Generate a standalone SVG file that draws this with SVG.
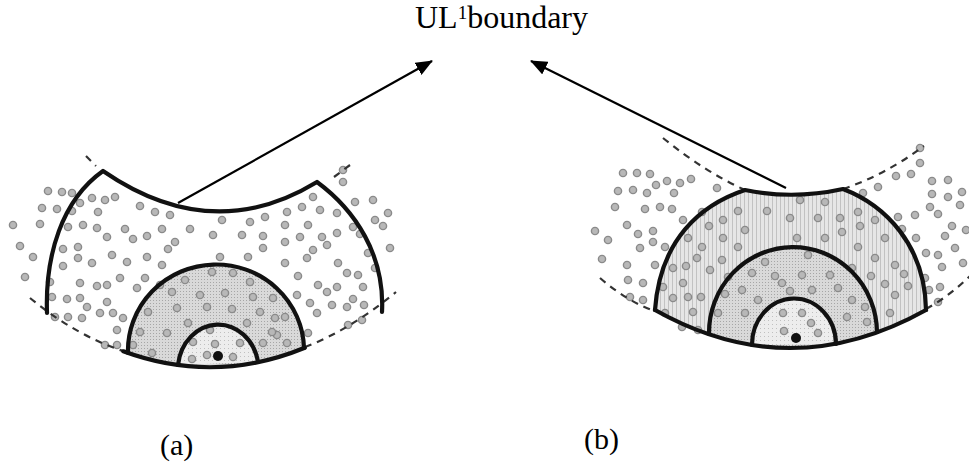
<svg xmlns="http://www.w3.org/2000/svg" width="969" height="469" viewBox="0 0 969 469">
<style>
.thick{fill:none;stroke:#111;stroke-width:4.2;stroke-linecap:round;stroke-linejoin:round}
.dash{fill:none;stroke:#333;stroke-width:2.2;stroke-dasharray:7 6}
.arrow{fill:none;stroke:#000;stroke-width:2.2}
.d{fill:#b8b8b8;stroke:#8a8a8a;stroke-width:1.4}
.lbl{font-family:"Liberation Serif","Times New Roman",serif;fill:#000}
</style>
<defs>
<pattern id="stip" width="3" height="3" patternUnits="userSpaceOnUse">
<rect width="3" height="3" fill="#d9d9d9"/><rect width="1" height="1" fill="#a6a6a6"/>
</pattern>
<pattern id="stripe" width="4" height="4" patternUnits="userSpaceOnUse">
<rect width="4" height="4" fill="#e6e6e6"/><rect width="1" height="4" fill="#c2c2c2"/>
</pattern>
<pattern id="light" width="4" height="4" patternUnits="userSpaceOnUse">
<rect width="4" height="4" fill="#ededed"/><rect width="1" height="1" fill="#c0c0c0"/>
</pattern>
<marker id="ah" markerWidth="18" markerHeight="14" refX="16" refY="7" orient="auto" markerUnits="userSpaceOnUse">
<path d="M0,0 L17,7 L0,14 Z" fill="#000"/>
</marker>
</defs>

<text class="lbl" x="415" y="28" font-size="32">UL<tspan font-size="19" dy="-9">1</tspan><tspan dy="9">boundary</tspan></text>

<g id="fig-a">
<path d="M128,353 A88,86 0 0 1 304,348 Q214.5,384.9 123.3,351.3 Z" fill="url(#stip)"/>
<path d="M178,365 A40.5,46 0 0 1 258,362 Z" fill="url(#light)"/>
<g id="dots-a">
<circle class="d" cx="48" cy="191" r="3.6"/><circle class="d" cx="62" cy="192" r="3.6"/><circle class="d" cx="72" cy="193" r="3.6"/><circle class="d" cx="42" cy="208" r="3.6"/><circle class="d" cx="57" cy="209" r="3.6"/><circle class="d" cx="72" cy="211" r="3.6"/><circle class="d" cx="80" cy="203" r="3.6"/><circle class="d" cx="92" cy="198" r="3.6"/><circle class="d" cx="105" cy="200" r="3.6"/><circle class="d" cx="115" cy="197" r="3.6"/><circle class="d" cx="98" cy="212" r="3.6"/><circle class="d" cx="140" cy="206" r="3.6"/><circle class="d" cx="155" cy="212" r="3.6"/><circle class="d" cx="170" cy="215" r="3.6"/><circle class="d" cx="13" cy="225" r="3.6"/><circle class="d" cx="40" cy="224" r="3.6"/><circle class="d" cx="68" cy="227" r="3.6"/><circle class="d" cx="83" cy="225" r="3.6"/><circle class="d" cx="97" cy="228" r="3.6"/><circle class="d" cx="107" cy="237" r="3.6"/><circle class="d" cx="125" cy="229" r="3.6"/><circle class="d" cx="133" cy="239" r="3.6"/><circle class="d" cx="147" cy="236" r="3.6"/><circle class="d" cx="162" cy="229" r="3.6"/><circle class="d" cx="175" cy="242" r="3.6"/><circle class="d" cx="168" cy="249" r="3.6"/><circle class="d" cx="190" cy="229" r="3.6"/><circle class="d" cx="20" cy="246" r="3.6"/><circle class="d" cx="33" cy="257" r="3.6"/><circle class="d" cx="63" cy="249" r="3.6"/><circle class="d" cx="78" cy="247" r="3.6"/><circle class="d" cx="78" cy="258" r="3.6"/><circle class="d" cx="63" cy="266" r="3.6"/><circle class="d" cx="92" cy="263" r="3.6"/><circle class="d" cx="112" cy="255" r="3.6"/><circle class="d" cx="127" cy="262" r="3.6"/><circle class="d" cx="147" cy="257" r="3.6"/><circle class="d" cx="162" cy="265" r="3.6"/><circle class="d" cx="25" cy="277" r="3.6"/><circle class="d" cx="50" cy="282" r="3.6"/><circle class="d" cx="80" cy="283" r="3.6"/><circle class="d" cx="97" cy="286" r="3.6"/><circle class="d" cx="107" cy="285" r="3.6"/><circle class="d" cx="120" cy="278" r="3.6"/><circle class="d" cx="137" cy="288" r="3.6"/><circle class="d" cx="145" cy="278" r="3.6"/><circle class="d" cx="52" cy="297" r="3.6"/><circle class="d" cx="67" cy="299" r="3.6"/><circle class="d" cx="80" cy="298" r="3.6"/><circle class="d" cx="87" cy="307" r="3.6"/><circle class="d" cx="107" cy="302" r="3.6"/><circle class="d" cx="100" cy="313" r="3.6"/><circle class="d" cx="113" cy="313" r="3.6"/><circle class="d" cx="123" cy="318" r="3.6"/><circle class="d" cx="55" cy="317" r="3.6"/><circle class="d" cx="68" cy="317" r="3.6"/><circle class="d" cx="82" cy="318" r="3.6"/><circle class="d" cx="117" cy="330" r="3.6"/><circle class="d" cx="105" cy="345" r="3.6"/><circle class="d" cx="117" cy="345" r="3.6"/>
<circle class="d" cx="343" cy="170" r="3.6"/><circle class="d" cx="343" cy="182" r="3.6"/><circle class="d" cx="355" cy="202" r="3.6"/><circle class="d" cx="373" cy="200" r="3.6"/><circle class="d" cx="388" cy="213" r="3.6"/><circle class="d" cx="375" cy="220" r="3.6"/><circle class="d" cx="383" cy="226" r="3.6"/><circle class="d" cx="353" cy="227" r="3.6"/><circle class="d" cx="360" cy="234" r="3.6"/><circle class="d" cx="313" cy="197" r="3.6"/><circle class="d" cx="302" cy="207" r="3.6"/><circle class="d" cx="287" cy="212" r="3.6"/><circle class="d" cx="265" cy="217" r="3.6"/><circle class="d" cx="250" cy="222" r="3.6"/><circle class="d" cx="222" cy="220" r="3.6"/><circle class="d" cx="213" cy="235" r="3.6"/><circle class="d" cx="242" cy="235" r="3.6"/><circle class="d" cx="263" cy="236" r="3.6"/><circle class="d" cx="285" cy="225" r="3.6"/><circle class="d" cx="308" cy="225" r="3.6"/><circle class="d" cx="320" cy="210" r="3.6"/><circle class="d" cx="337" cy="213" r="3.6"/><circle class="d" cx="337" cy="233" r="3.6"/><circle class="d" cx="322" cy="237" r="3.6"/><circle class="d" cx="300" cy="237" r="3.6"/><circle class="d" cx="285" cy="242" r="3.6"/><circle class="d" cx="263" cy="248" r="3.6"/><circle class="d" cx="313" cy="250" r="3.6"/><circle class="d" cx="307" cy="258" r="3.6"/><circle class="d" cx="327" cy="245" r="3.6"/><circle class="d" cx="368" cy="253" r="3.6"/><circle class="d" cx="390" cy="248" r="3.6"/><circle class="d" cx="248" cy="257" r="3.6"/><circle class="d" cx="220" cy="257" r="3.6"/><circle class="d" cx="285" cy="263" r="3.6"/><circle class="d" cx="338" cy="263" r="3.6"/><circle class="d" cx="347" cy="273" r="3.6"/><circle class="d" cx="358" cy="275" r="3.6"/><circle class="d" cx="298" cy="276" r="3.6"/><circle class="d" cx="375" cy="268" r="3.6"/><circle class="d" cx="318" cy="285" r="3.6"/><circle class="d" cx="327" cy="292" r="3.6"/><circle class="d" cx="337" cy="287" r="3.6"/><circle class="d" cx="363" cy="287" r="3.6"/><circle class="d" cx="297" cy="295" r="3.6"/><circle class="d" cx="310" cy="303" r="3.6"/><circle class="d" cx="332" cy="305" r="3.6"/><circle class="d" cx="347" cy="307" r="3.6"/><circle class="d" cx="353" cy="299" r="3.6"/><circle class="d" cx="364" cy="305" r="3.6"/><circle class="d" cx="317" cy="313" r="3.6"/><circle class="d" cx="348" cy="325" r="3.6"/><circle class="d" cx="362" cy="320" r="3.6"/><circle class="d" cx="308" cy="333" r="3.6"/>
<circle class="d" cx="225" cy="293" r="3.6"/><circle class="d" cx="253" cy="297" r="3.6"/><circle class="d" cx="207" cy="307" r="3.6"/><circle class="d" cx="232" cy="309" r="3.6"/><circle class="d" cx="260" cy="312" r="3.6"/><circle class="d" cx="275" cy="318" r="3.6"/><circle class="d" cx="277" cy="335" r="3.6"/><circle class="d" cx="263" cy="343" r="3.6"/><circle class="d" cx="247" cy="323" r="3.6"/><circle class="d" cx="233" cy="273" r="3.6"/><circle class="d" cx="172" cy="292" r="3.6"/><circle class="d" cx="200" cy="295" r="3.6"/><circle class="d" cx="148" cy="312" r="3.6"/><circle class="d" cx="177" cy="308" r="3.6"/><circle class="d" cx="140" cy="332" r="3.6"/><circle class="d" cx="167" cy="333" r="3.6"/><circle class="d" cx="188" cy="323" r="3.6"/><circle class="d" cx="210" cy="330" r="3.6"/><circle class="d" cx="272" cy="332" r="3.6"/><circle class="d" cx="285" cy="317" r="3.6"/><circle class="d" cx="287" cy="343" r="3.6"/><circle class="d" cx="152" cy="353" r="3.6"/><circle class="d" cx="133" cy="345" r="3.6"/><circle class="d" cx="273" cy="298" r="3.6"/><circle class="d" cx="185" cy="280" r="3.6"/><circle class="d" cx="212" cy="272" r="3.6"/><circle class="d" cx="250" cy="282" r="3.6"/><circle class="d" cx="160" cy="285" r="3.6"/>
<circle class="d" cx="193" cy="342" r="3.6"/><circle class="d" cx="207" cy="355" r="3.6"/><circle class="d" cx="233" cy="357" r="3.6"/><circle class="d" cx="240" cy="343" r="3.6"/><circle class="d" cx="192" cy="359" r="3.6"/><circle class="d" cx="215" cy="344" r="3.6"/>
</g>
<path class="dash" d="M86,156 L96,166"/>
<path class="dash" d="M334,177 L350,165"/>
<path class="dash" d="M30,298 Q75,335 123,351"/>
<path class="dash" d="M305,347 Q350,330 396,292"/>
<path class="thick" d="M47,313 C45,255 62,200 103,171 Q212,246 317,182 C355,210 385,255 382,312"/>
<path class="thick" d="M123.3,351.3 Q214.5,384.9 304.8,347.8"/>
<path class="thick" d="M128,353 A88,86 0 0 1 304,348"/>
<path class="thick" d="M178,365 A40.5,46 0 0 1 258,362"/>
<circle cx="218" cy="356" r="5" fill="#111"/>
</g>

<g id="fig-b">
<path d="M655,310 C660,240 700,205 745,190 Q793,200 843,189 C885,205 925,245 926,310 Q790,386 655,310 Z" fill="url(#stripe)"/>
<path d="M709,334 A84,86 0 0 1 877,332 Q792.9,362.5 709,334 Z" fill="url(#stip)"/>
<path d="M752,345 A42,46 0 0 1 836,344 Z" fill="url(#light)"/>
<g id="dots-b">
<circle class="d" cx="623" cy="173" r="3.6"/><circle class="d" cx="637" cy="173" r="3.6"/><circle class="d" cx="650" cy="174" r="3.6"/><circle class="d" cx="667" cy="181" r="3.6"/><circle class="d" cx="680" cy="183" r="3.6"/><circle class="d" cx="691" cy="179" r="3.6"/><circle class="d" cx="618" cy="191" r="3.6"/><circle class="d" cx="633" cy="190" r="3.6"/><circle class="d" cx="647" cy="193" r="3.6"/><circle class="d" cx="656" cy="185" r="3.6"/><circle class="d" cx="674" cy="193" r="3.6"/><circle class="d" cx="717" cy="188" r="3.6"/><circle class="d" cx="615" cy="207" r="3.6"/><circle class="d" cx="645" cy="209" r="3.6"/><circle class="d" cx="660" cy="207" r="3.6"/><circle class="d" cx="672" cy="209" r="3.6"/><circle class="d" cx="627" cy="225" r="3.6"/><circle class="d" cx="595" cy="231" r="3.6"/><circle class="d" cx="608" cy="240" r="3.6"/><circle class="d" cx="638" cy="234" r="3.6"/><circle class="d" cx="653" cy="231" r="3.6"/><circle class="d" cx="653" cy="242" r="3.6"/><circle class="d" cx="640" cy="248" r="3.6"/><circle class="d" cx="602" cy="259" r="3.6"/><circle class="d" cx="627" cy="265" r="3.6"/><circle class="d" cx="655" cy="265" r="3.6"/><circle class="d" cx="628" cy="280" r="3.6"/><circle class="d" cx="643" cy="283" r="3.6"/><circle class="d" cx="630" cy="297" r="3.6"/><circle class="d" cx="643" cy="300" r="3.6"/>
<circle class="d" cx="683" cy="220" r="3.6"/><circle class="d" cx="702" cy="212" r="3.6"/><circle class="d" cx="723" cy="220" r="3.6"/><circle class="d" cx="738" cy="211" r="3.6"/><circle class="d" cx="767" cy="211" r="3.6"/><circle class="d" cx="745" cy="230" r="3.6"/><circle class="d" cx="709" cy="226" r="3.6"/><circle class="d" cx="688" cy="238" r="3.6"/><circle class="d" cx="723" cy="238" r="3.6"/><circle class="d" cx="738" cy="247" r="3.6"/><circle class="d" cx="702" cy="247" r="3.6"/><circle class="d" cx="665" cy="247" r="3.6"/><circle class="d" cx="673" cy="268" r="3.6"/><circle class="d" cx="686" cy="266" r="3.6"/><circle class="d" cx="697" cy="258" r="3.6"/><circle class="d" cx="710" cy="270" r="3.6"/><circle class="d" cx="722" cy="260" r="3.6"/><circle class="d" cx="663" cy="287" r="3.6"/><circle class="d" cx="683" cy="283" r="3.6"/><circle class="d" cx="688" cy="297" r="3.6"/><circle class="d" cx="701" cy="297" r="3.6"/><circle class="d" cx="693" cy="312" r="3.6"/><circle class="d" cx="673" cy="298" r="3.6"/><circle class="d" cx="665" cy="313" r="3.6"/><circle class="d" cx="718" cy="313" r="3.6"/><circle class="d" cx="682" cy="327" r="3.6"/><circle class="d" cx="698" cy="330" r="3.6"/>
<circle class="d" cx="800" cy="200" r="3.6"/><circle class="d" cx="825" cy="202" r="3.6"/><circle class="d" cx="790" cy="218" r="3.6"/><circle class="d" cx="818" cy="218" r="3.6"/><circle class="d" cx="840" cy="218" r="3.6"/><circle class="d" cx="858" cy="212" r="3.6"/><circle class="d" cx="842" cy="232" r="3.6"/><circle class="d" cx="860" cy="226" r="3.6"/><circle class="d" cx="875" cy="220" r="3.6"/><circle class="d" cx="797" cy="238" r="3.6"/><circle class="d" cx="825" cy="238" r="3.6"/><circle class="d" cx="885" cy="238" r="3.6"/><circle class="d" cx="858" cy="247" r="3.6"/><circle class="d" cx="875" cy="258" r="3.6"/><circle class="d" cx="895" cy="265" r="3.6"/><circle class="d" cx="904" cy="274" r="3.6"/><circle class="d" cx="885" cy="284" r="3.6"/><circle class="d" cx="871" cy="276" r="3.6"/><circle class="d" cx="895" cy="295" r="3.6"/><circle class="d" cx="908" cy="286" r="3.6"/><circle class="d" cx="890" cy="313" r="3.6"/>
<circle class="d" cx="728" cy="277" r="3.6"/><circle class="d" cx="752" cy="273" r="3.6"/><circle class="d" cx="765" cy="262" r="3.6"/><circle class="d" cx="742" cy="290" r="3.6"/><circle class="d" cx="725" cy="294" r="3.6"/><circle class="d" cx="745" cy="313" r="3.6"/><circle class="d" cx="758" cy="300" r="3.6"/><circle class="d" cx="782" cy="283" r="3.6"/><circle class="d" cx="808" cy="255" r="3.6"/><circle class="d" cx="775" cy="276" r="3.6"/><circle class="d" cx="802" cy="275" r="3.6"/><circle class="d" cx="830" cy="275" r="3.6"/><circle class="d" cx="852" cy="268" r="3.6"/><circle class="d" cx="790" cy="291" r="3.6"/><circle class="d" cx="812" cy="290" r="3.6"/><circle class="d" cx="838" cy="288" r="3.6"/><circle class="d" cx="852" cy="300" r="3.6"/><circle class="d" cx="867" cy="322" r="3.6"/><circle class="d" cx="847" cy="317" r="3.6"/><circle class="d" cx="865" cy="307" r="3.6"/>
<circle class="d" cx="783" cy="313" r="3.6"/><circle class="d" cx="802" cy="313" r="3.6"/><circle class="d" cx="811" cy="323" r="3.6"/><circle class="d" cx="818" cy="333" r="3.6"/><circle class="d" cx="784" cy="331" r="3.6"/>
<circle class="d" cx="920" cy="148" r="3.6"/><circle class="d" cx="920" cy="163" r="3.6"/><circle class="d" cx="911" cy="174" r="3.6"/><circle class="d" cx="896" cy="176" r="3.6"/><circle class="d" cx="878" cy="187" r="3.6"/><circle class="d" cx="863" cy="193" r="3.6"/><circle class="d" cx="932" cy="181" r="3.6"/><circle class="d" cx="948" cy="180" r="3.6"/><circle class="d" cx="932" cy="194" r="3.6"/><circle class="d" cx="948" cy="197" r="3.6"/><circle class="d" cx="962" cy="192" r="3.6"/><circle class="d" cx="960" cy="205" r="3.6"/><circle class="d" cx="930" cy="207" r="3.6"/><circle class="d" cx="938" cy="214" r="3.6"/><circle class="d" cx="915" cy="215" r="3.6"/><circle class="d" cx="898" cy="217" r="3.6"/><circle class="d" cx="902" cy="229" r="3.6"/><circle class="d" cx="916" cy="238" r="3.6"/><circle class="d" cx="952" cy="226" r="3.6"/><circle class="d" cx="945" cy="236" r="3.6"/><circle class="d" cx="966" cy="230" r="3.6"/><circle class="d" cx="955" cy="248" r="3.6"/><circle class="d" cx="938" cy="255" r="3.6"/><circle class="d" cx="926" cy="253" r="3.6"/><circle class="d" cx="963" cy="263" r="3.6"/><circle class="d" cx="942" cy="267" r="3.6"/><circle class="d" cx="925" cy="278" r="3.6"/><circle class="d" cx="940" cy="287" r="3.6"/><circle class="d" cx="929" cy="290" r="3.6"/><circle class="d" cx="938" cy="302" r="3.6"/>
</g>
<path class="dash" d="M663,138 Q705,172 745,190"/>
<path class="dash" d="M843,189 Q885,175 924,146"/>
<path class="dash" d="M600,278 Q628,302 655,311"/>
<path class="dash" d="M926,309 Q950,296 972,274"/>
<path class="thick" d="M655,310 C660,240 700,205 745,190 Q793,200 843,189 C885,205 925,245 926,310"/>
<path class="thick" d="M655,310 Q790,386 926,310"/>
<path class="thick" d="M709,334 A84,86 0 0 1 877,332"/>
<path class="thick" d="M752,345 A42,46 0 0 1 836,344"/>
<circle cx="796" cy="338" r="5" fill="#111"/>
</g>

<g id="connectors">
<line class="arrow" x1="178" y1="203" x2="432" y2="61" marker-end="url(#ah)"/>
<line class="arrow" x1="786" y1="188" x2="531" y2="61" marker-end="url(#ah)"/>
</g>

<text class="lbl" x="160" y="455" font-size="30">(a)</text>
<text class="lbl" x="584" y="449" font-size="30">(b)</text>
</svg>
